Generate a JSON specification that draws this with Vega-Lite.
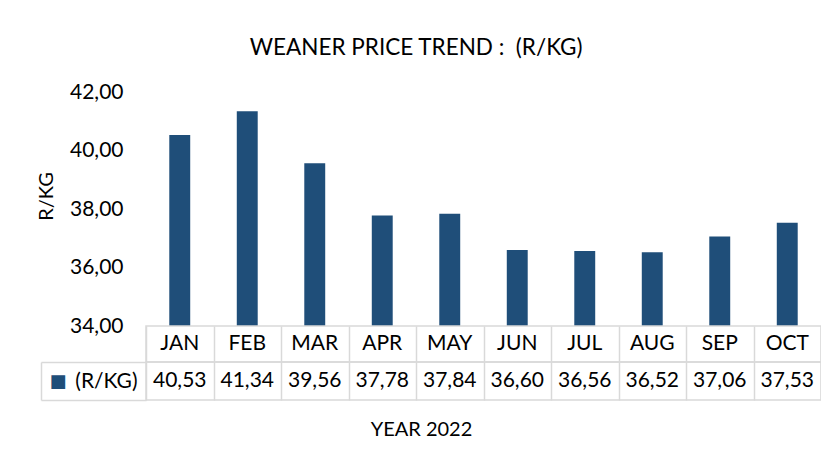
{
  "$schema": "https://vega.github.io/schema/vega-lite/v6.json",
  "padding": {"left": 36, "top": 36, "right": 0, "bottom": 10},
  "config": {
    "font": "Lato",
    "view": {"stroke": null},
    "locale": {"number": {"decimal": ",", "thousands": " ", "grouping": [3], "currency": ["R", ""]}}
  },
  "title": {
    "text": "WEANER PRICE TREND : \u00a0(R/KG)",
    "fontSize": 22.5,
    "fontWeight": "normal",
    "color": "#000000",
    "anchor": "middle",
    "dx": -13,
    "offset": 22
  },
  "datasets": {
    "prices": [
      {"month": "JAN", "value": 40.53},
      {"month": "FEB", "value": 41.34},
      {"month": "MAR", "value": 39.56},
      {"month": "APR", "value": 37.78},
      {"month": "MAY", "value": 37.84},
      {"month": "JUN", "value": 36.60},
      {"month": "JUL", "value": 36.56},
      {"month": "AUG", "value": 36.52},
      {"month": "SEP", "value": 37.06},
      {"month": "OCT", "value": 37.53}
    ]
  },
  "spacing": 0,
  "bounds": "flush",
  "vconcat": [
    {
      "width": 675,
      "height": 234,
      "data": {"name": "prices"},
      "mark": {"type": "bar", "color": "#1F4E79", "clip": true},
      "encoding": {
        "x": {
          "field": "month",
          "type": "nominal",
          "sort": null,
          "scale": {"paddingInner": 0.69, "paddingOuter": 0.345},
          "axis": null
        },
        "y": {
          "field": "value",
          "type": "quantitative",
          "scale": {"domain": [34, 42], "zero": false, "nice": false},
          "axis": {
            "title": "R/KG",
            "titleFontSize": 20,
            "titleFontWeight": "normal",
            "titleColor": "#000000",
            "titlePadding": 13,
            "titleY": 104,
            "values": [34, 36, 38, 40, 42],
            "format": ".2f",
            "domain": false,
            "ticks": false,
            "grid": false,
            "labelPadding": 23,
            "labelFontSize": 21,
            "labelColor": "#000000"
          }
        },
        "y2": {"datum": 34}
      }
    },
    {
      "width": 675,
      "height": 36,
      "view": {"stroke": "#d9d9d9", "strokeWidth": 1.5},
      "data": {"name": "prices"},
      "mark": {"type": "text", "fontSize": 21, "color": "#000000"},
      "encoding": {
        "x": {
          "field": "month",
          "type": "nominal",
          "sort": null,
          "scale": {"type": "band", "paddingInner": 0, "paddingOuter": 0},
          "axis": {
            "orient": "bottom",
            "grid": true,
            "gridColor": "#d9d9d9",
            "gridWidth": 1.5,
            "tickBand": "extent",
            "labels": false,
            "ticks": false,
            "domain": false,
            "title": null
          }
        },
        "text": {"field": "month", "type": "nominal"}
      }
    },
    {
      "width": 675,
      "height": 38,
      "view": {"stroke": "#d9d9d9", "strokeWidth": 1.5},
      "data": {"name": "prices"},
      "resolve": {"scale": {"y": "independent"}, "axis": {"y": "independent"}},
      "layer": [
        {
          "mark": {"type": "text", "fontSize": 21, "color": "#000000"},
          "encoding": {
            "x": {
              "field": "month",
              "type": "nominal",
              "sort": null,
              "scale": {"type": "band", "paddingInner": 0, "paddingOuter": 0},
              "axis": {
                "orient": "bottom",
                "grid": true,
                "gridColor": "#d9d9d9",
                "gridWidth": 1.5,
                "tickBand": "extent",
                "labels": false,
                "ticks": false,
                "domain": false,
                "title": "YEAR 2022",
                "titleFontSize": 20,
                "titleFontWeight": "normal",
                "titleColor": "#000000",
                "titlePadding": 19,
                "titleX": 275
              }
            },
            "y": {
              "datum": "(R/KG)",
              "type": "nominal",
              "axis": {
                "orient": "left",
                "domain": false,
                "ticks": true,
                "tickBand": "extent",
                "tickSize": 105,
                "tickColor": "#d9d9d9",
                "tickWidth": 1.5,
                "labelPadding": -96,
                "labelFontSize": 21,
                "labelColor": "#000000",
                "title": "■",
                "titleFont": "DejaVu Sans",
                "titleFontSize": 18,
                "titleFontWeight": "normal",
                "titleColor": "#1F4E79",
                "titleAngle": 0,
                "titleAlign": "left",
                "titleBaseline": "middle",
                "titleX": -97,
                "titleY": 19
              }
            },
            "text": {"field": "value", "type": "quantitative", "format": ".2f"}
          }
        },
        {
          "mark": {"type": "text", "text": ""},
          "encoding": {
            "y": {
              "datum": "(R/KG)",
              "type": "nominal",
              "axis": {
                "orient": "left",
                "offset": 105,
                "domain": true,
                "domainColor": "#d9d9d9",
                "domainWidth": 1.5,
                "labels": false,
                "ticks": false,
                "title": null
              }
            }
          }
        }
      ]
    }
  ]
}
